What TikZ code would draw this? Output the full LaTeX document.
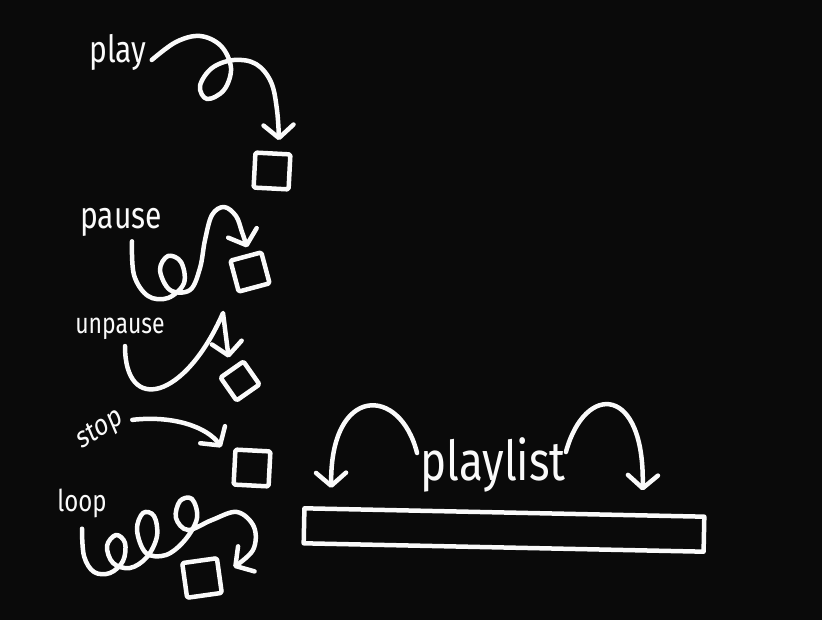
\documentclass[tikz,border=0pt]{standalone}
\usepackage{fontspec}
\setmainfont{Fira Sans}
\usepackage{tikz}
\usetikzlibrary{arrows.meta,calc}
\definecolor{Pizarra}{RGB}{10,10,10}
\definecolor{Tiza}{RGB}{250,250,250}

\begin{document}
\begin{tikzpicture}[x=1pt,y=-1pt,>={Straight Barb[length=13pt,width=30pt,round]},
  tiza/.style={draw=Tiza,line width=4.5pt,line cap=round,line join=round},
  etiqueta/.style={text=Tiza,inner sep=0pt,yscale=1.25,font=\fontsize{#1}{#1}\selectfont},
  caja/.style={tiza,minimum size=#1,inner sep=0pt,rounded corners=1.5pt}]

  % Pizarra
  \fill[Pizarra] (0,0) rectangle (822,620);

  % Play
  \node[etiqueta=30] (play) at (118,52) {play};
  \node[caja=35,rotate=-3] (cajaplay) at (272,171) {};
  \coordinate (playA) at ($(play.east)+(5,8)$);
  \coordinate (playB) at ($(cajaplay.north)+(6,-11)$);
  \draw[tiza,->] plot[smooth,tension=0.6] coordinates {(playA) (176,42) (200,36) (221,46) (231,68) (224,90) (207,99) (200,86) (212,68) (234,60) (256,64) (271,82) (277,110) (playB)};

  % Pause
  \node[etiqueta=30] (pause) at (121,222) {pause};
  \node[caja=32,rotate=15] (cajapause) at (250,272) {};
  \coordinate (pauseA) at ($(pause.south)+(11,5)$);
  \coordinate (pauseB) at ($(cajapause.north)+(2,-7)$);
  \draw[tiza,->] plot[smooth,tension=0.6] coordinates {(pauseA) (134,275) (148,296) (168,298) (184,283) (181,262) (168,256) (160,270) (170,290) (190,290) (200,268) (205,240) (212,215) (224,207) (236,216) (242,232) (pauseB)};

  % Unpause
  \node[etiqueta=23] (unpause) at (120,329) {unpause};
  \node[caja=28,rotate=35] (cajaunpause) at (240,381) {};
  \coordinate (unpauseA) at ($(unpause.south)+(5,6)$);
  \coordinate (unpauseB) at ($(cajaunpause.north)+(-2,-10)$);
  \draw[tiza,->] (unpauseA) .. controls (125,415) and (185,400) .. (223,313) -- (unpauseB);

  % Stop
  \node[etiqueta=24,rotate=28] (stop) at (100,430) {stop};
  \node[caja=35,rotate=-3] (cajastop) at (252,468) {};
  \coordinate (stopA) at ($(stop.east)+(11,4)$);
  \coordinate (stopB) at ($(cajastop.north west)+(-12,0)$);
  \draw[tiza,->] (stopA) .. controls (175,415) and (208,428) .. (stopB);

  % Loop
  \node[etiqueta=24] (loop) at (82,503) {loop};
  \node[caja=35,rotate=8] (cajaloop) at (202,578) {};
  \coordinate (loopA) at ($(loop.south)+(0,11)$);
  \coordinate (loopB) at ($(cajaloop.east)+(12,-8)$);
  \draw[tiza,->] plot[smooth,tension=0.6] coordinates {(loopA) (84,556) (94,572) (110,573) (123,561) (125,543) (116,535) (107,546) (113,563) (130,568) (147,557) (157,536) (154,516) (143,513) (137,530) (146,553) (166,555) (185,540) (197,518) (192,499) (180,501) (176,518) (188,530) (212,520) (237,512) (254,527) (253,550) (loopB)};

  % Playlist
  \node[etiqueta=44] (playlist) at (493,465) {playlist};
  \node[tiza,minimum width=400,minimum height=35,inner sep=0pt,rotate=-1.2] (lista) at (504,530) {};
  \coordinate (listaA) at ($(playlist.west)+(-3,-12)$);
  \coordinate (listaB) at ($(lista.north west)+(29,-18)$);
  \coordinate (listaC) at ($(playlist.east)+(0,-13)$);
  \coordinate (listaD) at ($(lista.north east)+(-64,-24)$);
  \draw[tiza,->] (listaA) .. controls (400,385) and (330,385) .. (listaB);
  \draw[tiza,->] (listaC) .. controls (585,382) and (645,385) .. (listaD);
\end{tikzpicture}
\end{document}
